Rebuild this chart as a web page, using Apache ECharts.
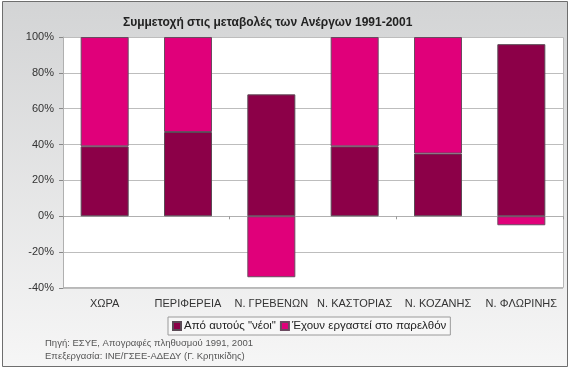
<!DOCTYPE html>
<html><head><meta charset="utf-8">
<script src="https://cdn.jsdelivr.net/npm/echarts@6/dist/echarts.min.js"></script>
<style>html,body{margin:0;padding:0;background:#fff}#c{width:571px;height:369px}</style>
</head><body><div id="c"></div>
<script>
const categories = ["ΧΩΡΑ","ΠΕΡΙΦΕΡΕΙΑ","Ν. ΓΡΕΒΕΝΩΝ","Ν. ΚΑΣΤΟΡΙΑΣ","Ν. ΚΟΖΑΝΗΣ","Ν. ΦΛΩΡΙΝΗΣ"];
const neoi = [39, 47, 68, 39, 35, 96];
const ergastei = [61, 53, -34, 61, 65, -5];
const seriesNames = ['Από αυτούς "νέοι"', 'Έχουν εργαστεί στο παρελθόν'];
const titleText = "Συμμετοχή στις μεταβολές των Ανέργων 1991-2001";
const sourceLines = ["Πηγή: ΕΣΥΕ, Απογραφές πληθυσμού 1991, 2001", "Επεξεργασία: ΙΝΕ/ΓΣΕΕ-ΑΔΕΔΥ (Γ. Κρητικίδης)"];

const font = "Liberation Sans, Arial, sans-serif";
const chart = echarts.init(document.getElementById('c'), null, {renderer:'canvas'});
chart.setOption({
  animation:false,
  graphic:[
    {type:'rect', z:-10, shape:{x:2.5,y:1.5,width:565,height:365},
     style:{fill:new echarts.graphic.LinearGradient(0,0,0,1,[{offset:0,color:'#d3d4d5'},{offset:1,color:'#f6f6f6'}]), stroke:'#6e6e6e', lineWidth:1}},
    {type:'rect', z:-5, shape:{x:63.5,y:37.5,width:500,height:250},
     style:{fill:'#ffffff', stroke:'#b8b8b8', lineWidth:1}},
    {type:'text', left:45, top:338, style:{text:sourceLines[0], font:'9.5px '+font, fill:'#555'}},
    {type:'text', left:45, top:351, style:{text:sourceLines[1], font:'9.5px '+font, fill:'#555'}}
  ],
  title:{text:titleText, left:118, top:12, textStyle:{fontFamily:font, fontSize:12, fontWeight:'bold', color:'#222'}},
  legend:{top:317, left:168, itemWidth:8, itemHeight:8, itemGap:4, padding:[3,4,3,4],
    borderColor:'#9a9a9a', borderWidth:1, backgroundColor:'#f7f7f7', icon:'rect',
    textStyle:{fontFamily:font, fontSize:11.5, color:'#222', padding:[0,0,0,-2]},
    data:seriesNames},
  grid:{left:63, right:8, top:37, bottom:81},
  xAxis:[
    {type:'category', data:categories,
     axisLine:{show:false, onZero:false}, axisTick:{show:false},
     axisLabel:{fontFamily:font, fontSize:11, color:'#333', margin:10, interval:0}},
    {type:'category', data:categories, position:'bottom',
     axisLine:{show:true, onZero:true, lineStyle:{color:'#b0b0b0'}},
     axisTick:{show:true, length:3, lineStyle:{color:'#999'}},
     axisLabel:{show:false}}
  ],
  yAxis:{type:'value', min:-40, max:100, interval:20,
    axisLine:{show:true, lineStyle:{color:'#b0b0b0'}},
    axisTick:{show:true, length:4, lineStyle:{color:'#888'}},
    axisLabel:{formatter:'{value}%', fontFamily:font, fontSize:11, color:'#333', margin:9},
    splitLine:{lineStyle:{color:'#bdbdbd'}}},
  series:[
    {name:seriesNames[0], type:'bar', stack:'s', data:neoi, barWidth:48, xAxisIndex:0,
     itemStyle:{color:'#8c0048', borderColor:'#5a4a55', borderWidth:1}},
    {name:seriesNames[1], type:'bar', stack:'s', data:ergastei, barWidth:48, xAxisIndex:0,
     itemStyle:{color:'#e0007a', borderColor:'#6a4a60', borderWidth:1}}
  ]
});
</script></body></html>
